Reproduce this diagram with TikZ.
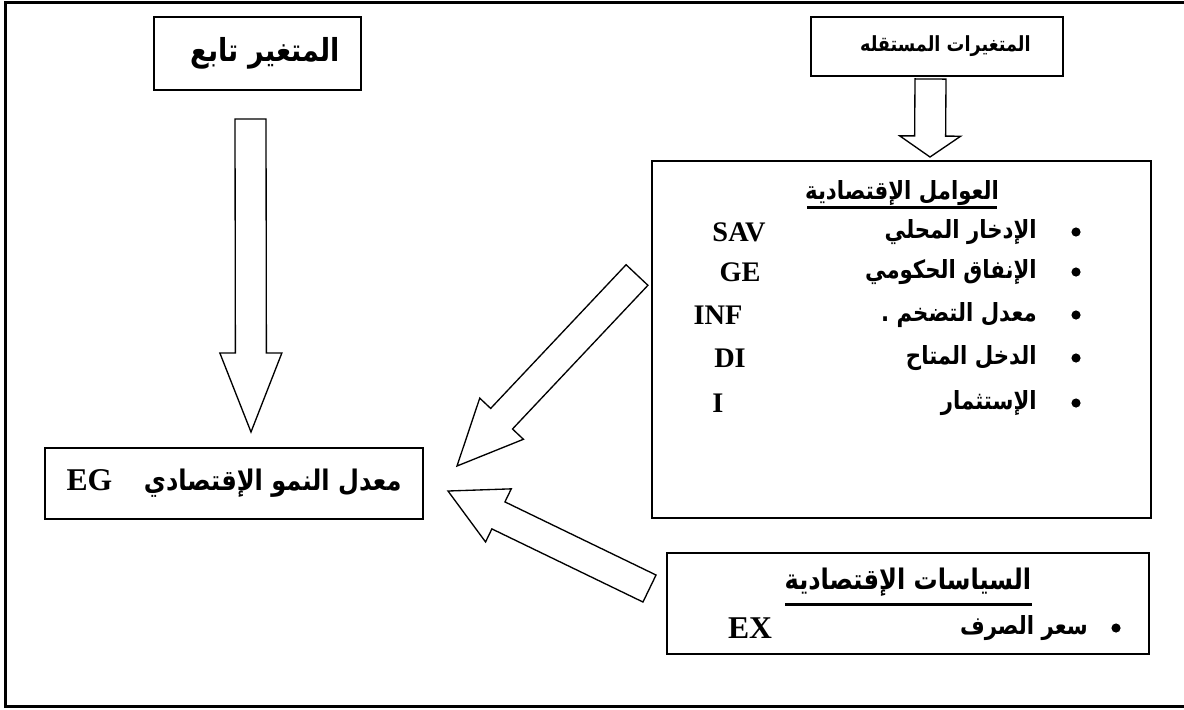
\documentclass[tikz,border=0pt]{standalone}
\usepackage{fontspec}
\setmainfont{Liberation Serif}
\newfontfamily\arabicfont[Script=Arabic, FakeStretch=0.85]{DejaVu Sans}
\TeXXeTstate=1
\usetikzlibrary{calc}

\tikzset{
  box/.style={draw, line width=1.2pt, inner sep=0pt},
  arrowline/.style={draw, fill=white, line width=0.8pt, line join=miter},
  artext/.style={inner sep=0pt, font=\arabicfont\bfseries\fontsize{15}{18}\selectfont},
  code/.style={inner sep=0pt, font=\bfseries\fontsize{17}{20}\selectfont},
  dot/.style={circle, fill, inner sep=0pt, minimum size=5.5pt},
  uline/.style={line width=1.8pt},
}

% tail, tip, shaft half width, head half width, head length (px)
\newcommand\hollowarrow[5]{%
  \coordinate (hb) at ($(#2)!{#5*0.6pt}!(#1)$);
  \draw[arrowline] ($(#1)!{#3*0.6pt}!90:(#2)$)
    -- ($(hb)!{#3*0.6pt}!90:(#2)$) -- ($(hb)!{#4*0.6pt}!90:(#2)$)
    -- (#2)
    -- ($(hb)!{#4*0.6pt}!-90:(#2)$) -- ($(hb)!{#3*0.6pt}!-90:(#2)$)
    -- ($(#1)!{#3*0.6pt}!-90:(#2)$) -- cycle;
}
\newcommand\artxt[1]{\beginR #1\endR}

\begin{document}
\begin{tikzpicture}[x=0.6pt,y=-0.6pt]
  \useasboundingbox (0,0) rectangle (1184,709);
  \draw[line width=1.8pt] (1200,2) -- (5,2) -- (5,706) -- (1200,706);

  \node[box, minimum width=124.2pt, minimum height=43.8pt,
        font=\arabicfont\bfseries\fontsize{19}{22}\selectfont] (dep) at (257.5,53.5) {\hspace{9pt}\artxt{المتغير تابع}};
  \node[box, minimum width=151.2pt, minimum height=35.4pt,
        font=\arabicfont\bfseries\fontsize{12.5}{15}\selectfont] (indep) at (937,46.5) {\hspace{10pt}\artxt{المتغيرات المستقله}};
  \node[box, minimum width=299.4pt, minimum height=214.2pt] (factors) at (901.5,339.5) {};
  \node[box, minimum width=226.8pt, minimum height=42.6pt] (eg) at (234,483.5)
    {{\bfseries\fontsize{19}{22}\selectfont EG}\hspace{19pt}{\arabicfont\bfseries\fontsize{17}{22}\selectfont\artxt{معدل النمو الإقتصادي}}};
  \node[box, minimum width=289.2pt, minimum height=60.6pt] (policy) at (908,603.5) {};

  \node[artext] (ftitle) at (902,193) {\artxt{العوامل الإقتصادية}};
  \draw[uline] (807,207) -- (997,207);
  \node[dot] (b1) at (1076,232) {};
  \node[dot] (b2) at (1076,272) {};
  \node[dot] (b3) at (1076,315) {};
  \node[dot] (b4) at (1076,358) {};
  \node[dot] (b5) at (1076,403) {};
  \node[artext, anchor=east] (f1) at (1037,232) {\artxt{الإدخار المحلي}};
  \node[artext, anchor=east] (f2) at (1037,272) {\artxt{الإنفاق الحكومي}};
  \node[artext, anchor=east] (f3) at (1037,315) {\artxt{معدل التضخم .}};
  \node[artext, anchor=east] (f4) at (1037,358) {\artxt{الدخل المتاح}};
  \node[artext, anchor=east] (f5) at (1037,403) {\artxt{الإستثمار}};
  \node[code] (c1) at (739,232) {SAV};
  \node[code] (c2) at (740,272) {GE};
  \node[code] (c3) at (718,315) {INF};
  \node[code] (c4) at (730,358) {DI};
  \node[code] (c5) at (718,403) {I};

  \node[artext, font=\arabicfont\bfseries\fontsize{17}{20}\selectfont] (ptitle) at (908,582) {\artxt{السياسات الإقتصادية}};
  \draw[uline] (785,604) -- (1032,604);
  \node[dot] (b6) at (1116,628) {};
  \node[artext, anchor=east] (p1) at (1088,628) {\artxt{سعر الصرف}};
  \node[code, font=\bfseries\fontsize{19}{22}\selectfont] (c6) at (750,628) {EX};

  \coordinate (a1tail) at (250.5,119);
  \coordinate (a1tip) at (251,432);
  \coordinate (a2tail) at (930.5,79);
  \coordinate (a2tip) at (930,157);
  \coordinate (a3tail) at (637,275);
  \coordinate (a3tip) at (457,466);
  \coordinate (a4tail) at (649.5,588.5);
  \coordinate (a4tip) at (448,491);
  \hollowarrow{a1tail}{a1tip}{15.5}{31}{79}
  \hollowarrow{a2tail}{a2tip}{15.5}{30.5}{21}
  \hollowarrow{a3tail}{a3tip}{15}{30}{65}
  \hollowarrow{a4tail}{a4tip}{15}{29.5}{56}
\end{tikzpicture}
\end{document}
